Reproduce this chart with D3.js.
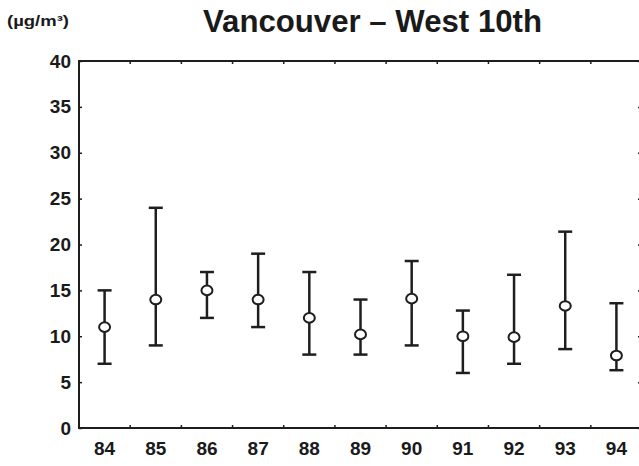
<!DOCTYPE html>
<html>
<head>
<meta charset="utf-8">
<script src="https://cdn.jsdelivr.net/npm/d3@7"></script>
<style>
  body { margin: 0; background: #fff; }
  svg { display: block; }
  text { font-family: "Liberation Sans", Arial, Helvetica, sans-serif; fill: #1a1a1a; }
</style>
</head>
<body>
<svg id="chart" width="639" height="466"></svg>
<script>
// years on the x axis (19xx)
const years = ["84", "85", "86", "87", "88", "89", "90", "91", "92", "93", "94"];
// mean value (circle)
const means = [11, 14, 15, 14, 12, 10.2, 14.1, 10, 9.9, 13.3, 7.9];
// top of the bar
const highs = [15, 24, 17, 19, 17, 14, 18.2, 12.8, 16.7, 21.4, 13.6];
// bottom of the bar
const lows = [7, 9, 12, 11, 8, 8, 9, 6, 7, 8.6, 6.3];
const yTicks = [0, 5, 10, 15, 20, 25, 30, 35, 40];

const svg = d3.select("#chart");
const ink = "#1e1e1e";

const plotL = 79, plotR = 642, plotT = 61, plotB = 428;

const x = d3.scaleBand().domain(years).range([plotL, plotR]);
const y = d3.scaleLinear().domain([0, 40]).range([plotB, plotT]);

// title + unit
svg.append("text")
    .attr("x", 203)
    .attr("y", 32)
    .attr("textLength", 339)
    .attr("lengthAdjust", "spacingAndGlyphs")
    .style("font-size", "31px")
    .style("font-weight", "bold")
    .text("Vancouver \u2013 West 10th");

svg.append("text")
    .attr("x", 7)
    .attr("y", 26)
    .attr("textLength", 62)
    .attr("lengthAdjust", "spacingAndGlyphs")
    .style("font-size", "15px")
    .style("font-weight", "bold")
    .text("(\u00b5g/m\u00b3)");

// frame
svg.append("rect")
    .attr("x", plotL)
    .attr("y", plotT)
    .attr("width", plotR - plotL)
    .attr("height", plotB - plotT)
    .attr("fill", "none")
    .attr("stroke", ink)
    .attr("stroke-width", 2);

// y axis labels and small inner ticks
const yAxis = d3.axisLeft(y).tickValues(yTicks).tickSize(-3).tickPadding(8);
const gy = svg.append("g").attr("transform", `translate(${plotL},0)`).call(yAxis);
gy.select(".domain").remove();
gy.selectAll(".tick line").attr("stroke", ink).attr("stroke-width", 1.5);
gy.selectAll(".tick text")
    .style("font-size", "19px")
    .style("font-weight", "bold")
    .attr("fill", ink);

// right side ticks
const gyr = svg.append("g").attr("transform", `translate(${plotR - 4},0)`)
    .call(d3.axisRight(y).tickValues(yTicks).tickSize(3).tickFormat(""));
gyr.select(".domain").remove();
gyr.selectAll(".tick line").attr("stroke", ink).attr("stroke-width", 1.5);

// x axis labels
const xAxis = d3.axisBottom(x).tickSize(0).tickPadding(14);
const gx = svg.append("g").attr("transform", `translate(0,${plotB})`).call(xAxis);
gx.select(".domain").remove();
gx.selectAll(".tick text")
    .style("font-size", "19px")
    .style("font-weight", "bold")
    .attr("fill", ink);

// ticks at band boundaries on top and bottom
const bounds = years.slice(1).map(d => x(d));
svg.append("g").selectAll("line")
    .data(bounds)
    .join("line")
    .attr("x1", d => d).attr("x2", d => d)
    .attr("y1", plotB).attr("y2", plotB - 3)
    .attr("stroke", ink).attr("stroke-width", 1.5);
svg.append("g").selectAll("line")
    .data(bounds)
    .join("line")
    .attr("x1", d => d).attr("x2", d => d)
    .attr("y1", plotT).attr("y2", plotT + 3)
    .attr("stroke", ink).attr("stroke-width", 1.5);

// error bars
const rows = years.map((d, i) => ({ year: d, mean: means[i], hi: highs[i], lo: lows[i] }));
const cx = d => x(d.year) + x.bandwidth() / 2;
const capW = 7;

const bars = svg.append("g").selectAll("g").data(rows).join("g");
bars.append("line")
    .attr("x1", cx).attr("x2", cx)
    .attr("y1", d => y(d.hi)).attr("y2", d => y(d.lo))
    .attr("stroke", ink).attr("stroke-width", 2.5);
bars.append("line")
    .attr("x1", d => cx(d) - capW).attr("x2", d => cx(d) + capW)
    .attr("y1", d => y(d.hi)).attr("y2", d => y(d.hi))
    .attr("stroke", ink).attr("stroke-width", 2.5);
bars.append("line")
    .attr("x1", d => cx(d) - capW).attr("x2", d => cx(d) + capW)
    .attr("y1", d => y(d.lo)).attr("y2", d => y(d.lo))
    .attr("stroke", ink).attr("stroke-width", 2.5);
bars.append("ellipse")
    .attr("cx", cx)
    .attr("cy", d => y(d.mean))
    .attr("rx", 5.5).attr("ry", 4.8)
    .attr("fill", "#fff")
    .attr("stroke", ink)
    .attr("stroke-width", 2);
</script>
</body>
</html>
